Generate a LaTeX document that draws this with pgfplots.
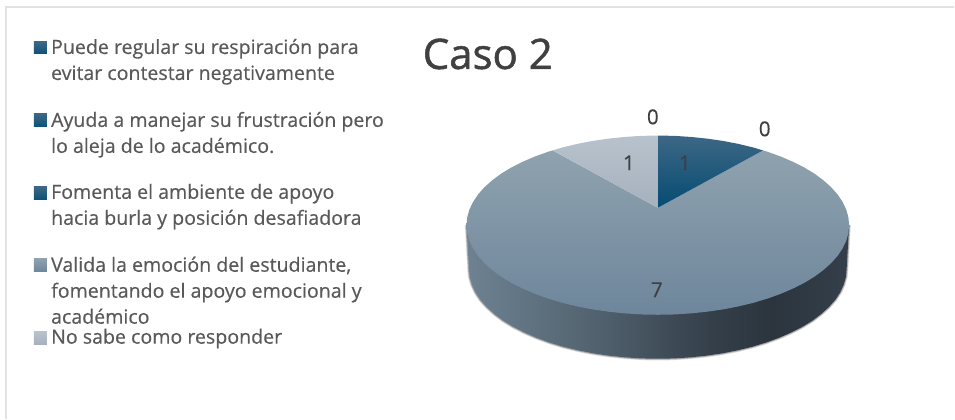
\documentclass[border=0pt]{standalone}
\usepackage{fontspec}
\setmainfont[FakeBold=0.4]{Open Sans}
\newfontfamily\titlefont[FakeBold=1.2]{Open Sans}
\usepackage{pgfplots}
\pgfplotsset{compat=1.18}

\definecolor{legtext}{HTML}{595959}
\definecolor{lbl}{HTML}{404040}
\definecolor{framec}{HTML}{E2E2E2}
\definecolor{bigtop}{HTML}{8FA2AE}
\definecolor{bigmid}{HTML}{8197AB}
\definecolor{bigbot}{HTML}{6E869C}
\definecolor{bluetop}{HTML}{3D6785}
\definecolor{bluemid}{HTML}{0A5277}
\definecolor{bluebot}{HTML}{054C72}
\definecolor{blueleg}{HTML}{0A5277}
\definecolor{lighttop}{HTML}{B8C2CD}
\definecolor{lightbot}{HTML}{A5B1BD}
\definecolor{walla}{HTML}{6E8292}
\definecolor{wallb}{HTML}{556672}
\definecolor{wallc}{HTML}{414F5B}
\definecolor{wallm}{HTML}{343F4A}
\definecolor{walld}{HTML}{2C353E}
\definecolor{walle}{HTML}{343F4B}
% side wall of the pie, dark towards the right
\pgfdeclarehorizontalshading{wall}{100bp}{
  color(0bp)=(walla);
  color(25bp)=(walla);
  color(40bp)=(wallb);
  color(50bp)=(wallc);
  color(57bp)=(wallm);
  color(65bp)=(walld);
  color(75bp)=(walle);
  color(100bp)=(walle)}

% lower rim of the pie, also used for the soft shadow
\newcommand{\rim}{(467,225.4) (469.5,269.4) (470.2,277.2) (472.4,285.0) (475.9,292.6) (480.8,300.1) (487.2,307.3) (494.9,314.3) (503.6,320.9) (513.7,327.1) (524.9,332.8) (537,338.1) (550.1,342.9) (563.9,347.1) (578.7,350.7) (593.9,353.7) (609.5,356.0) (625.6,357.7) (642,358.8) (658.5,359.1) (675,358.8) (691.4,357.7) (707.5,356.0) (723.1,353.7) (738.3,350.7) (753.1,347.1) (766.9,342.9) (780,338.1) (792.1,332.8) (803.3,327.1) (813.4,320.9) (822.1,314.3) (829.8,307.3) (836.2,300.1) (841.1,292.6) (844.6,285.0) (846.8,277.2) (847.5,269.4) (850,225.4)}

\newcommand{\legline}[2]{\node[anchor=base west,text=legtext,font=\fontsize{19.6}{19.6}\selectfont,inner sep=0pt] at (axis cs:51,#1) {#2};}
\newcommand{\pielabel}[3]{\node[text=lbl,font=\fontsize{20.5}{20.5}\selectfont,inner sep=0pt] at (axis cs:#1,#2) {#3};}

\begin{document}
\begin{tikzpicture}
\begin{axis}[
    scale only axis,
    width=955pt, height=419pt,
    xmin=0, xmax=955,
    ymin=0, ymax=419,
    y dir=reverse,
    axis lines=none,
    clip=false,
]
% keep the whole canvas in the bounding box
\path (rel axis cs:0,0) rectangle (rel axis cs:1,1);

% chart frame
\addplot[framec, line width=2pt] coordinates {(6.5,419) (6.5,7.5) (955,7.5)};

% shadow under the pie
\addplot[black, opacity=0.12, line width=3.5pt] coordinates {\rim};
\addplot[black, opacity=0.25, line width=2pt] coordinates {\rim};

% side wall
\addplot[draw=none, shade, shading=wall] coordinates {\rim};

% slice: Valida la emocion ... (7)
\addplot[draw=none, shade, top color=bigtop, middle color=bigmid, bottom color=bigbot] coordinates {
(658.5,208) (763.8,150.6) (768.3,151.9) (781.6,156.7) (793.9,162.0) (805.2,167.7) (815.4,173.9) (824.3,180.5) (832.1,187.5) (838.5,194.7) (843.5,202.2) (847.1,209.8) (849.3,217.6) (850,225.4) (849.3,233.2) (847.1,241.0) (843.5,248.6) (838.5,256.1) (832.1,263.3) (824.3,270.3) (815.4,276.9) (805.2,283.1) (793.9,288.8) (781.6,294.1) (768.3,298.9) (754.3,303.1) (739.4,306.7) (724,309.7) (708.1,312.0) (691.8,313.7) (675.2,314.8) (658.5,315.1) (641.8,314.8) (625.2,313.7) (608.9,312.0) (593,309.7) (577.6,306.7) (562.7,303.1) (548.7,298.9) (535.4,294.1) (523.1,288.8) (511.8,283.1) (501.6,276.9) (492.7,270.3) (484.9,263.3) (478.5,256.1) (473.5,248.6) (469.9,241.0) (467.7,233.2) (467,225.4) (467.7,217.6) (469.9,209.8) (473.5,202.2) (478.5,194.7) (484.9,187.5) (492.7,180.5) (501.6,173.9) (511.8,167.7) (523.1,162.0) (535.4,156.7) (548.7,151.9) (553.2,150.6)};

% slice: Fomenta el ambiente ... (1)
\addplot[draw=none, shade, top color=bluetop, middle color=bluemid, bottom color=bluebot] coordinates {
(658.5,208) (658.5,135.7) (675.2,136.0) (691.8,137.1) (708.1,138.8) (724,141.1) (739.4,144.1) (754.3,147.7) (763.8,150.6)};

% slice: No sabe como responder (1)
\addplot[draw=none, shade, top color=lighttop, bottom color=lightbot] coordinates {
(658.5,208) (658.5,135.7) (641.8,136.0) (625.2,137.1) (608.9,138.8) (593,141.1) (577.6,144.1) (562.7,147.7) (553.2,150.6)};

% legend keys
\addplot[draw=none, shade, top color=bluetop, bottom color=blueleg] coordinates {(34,42) (47,42) (47,54) (34,54)};
\addplot[draw=none, shade, top color=bluetop, bottom color=blueleg] coordinates {(34,114) (47,114) (47,127) (34,127)};
\addplot[draw=none, shade, top color=bluetop, bottom color=blueleg] coordinates {(34,187) (47,187) (47,200) (34,200)};
\addplot[draw=none, shade, top color=bigtop, bottom color=bigbot] coordinates {(34,259) (47,259) (47,272) (34,272)};
\addplot[draw=none, shade, top color=lighttop, bottom color=lightbot] coordinates {(34,332) (47,332) (47,345) (34,345)};

\legline{54}{Puede regular su respiración para}
\legline{80}{evitar contestar negativamente}
\legline{127}{Ayuda a manejar su frustración pero}
\legline{153}{lo aleja de lo académico.}
\legline{199}{Fomenta el ambiente de apoyo}
\legline{225}{hacia burla y posición desafiadora}
\legline{272}{Valida la emoción del estudiante,}
\legline{298}{fomentando el apoyo emocional y}
\legline{324}{académico}
\legline{344}{No sabe como responder}

\node[anchor=base west,text=lbl,font=\titlefont\fontsize{42}{42}\selectfont,inner sep=0pt] at (axis cs:423,69) {Caso 2};

\pielabel{653.5}{117}{0}
\pielabel{765.5}{129}{0}
\pielabel{629.5}{163}{1}
\pielabel{685.5}{163}{1}
\pielabel{657.5}{290}{7}
\end{axis}
\end{tikzpicture}
\end{document}
